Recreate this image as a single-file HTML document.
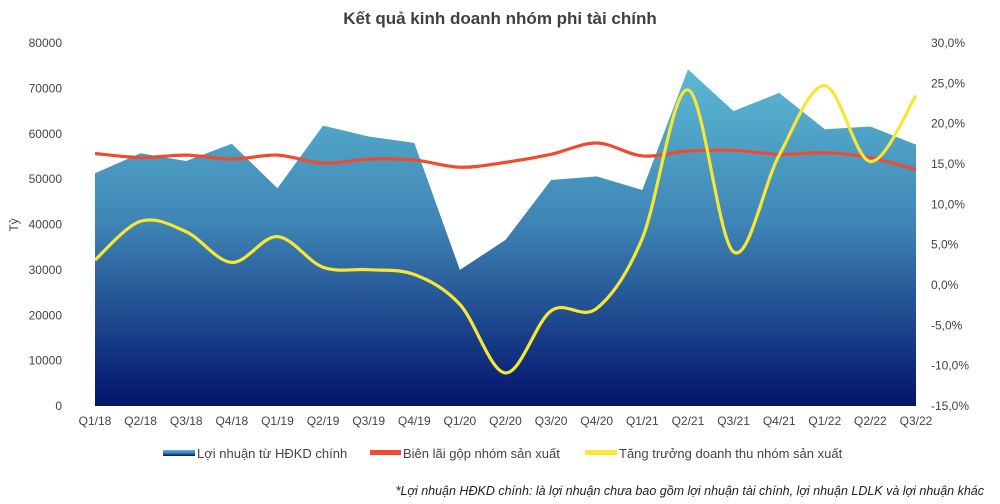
<!DOCTYPE html>
<html><head><meta charset="utf-8"><style>
html,body{margin:0;padding:0;background:#fff;}
svg{display:block;font-family:"Liberation Sans Narrow","Liberation Sans",sans-serif;}
</style></head><body>
<svg id="chart" width="1000" height="504" viewBox="0 0 1000 504">
<defs>
<linearGradient id="areaGrad" x1="0" y1="0" x2="0" y2="1">
<stop offset="0" stop-color="#5bb8d3"/>
<stop offset="0.45" stop-color="#3f86b6"/>
<stop offset="1" stop-color="#02136c"/>
</linearGradient>
</defs>
<text x="500" y="24" text-anchor="middle" font-size="17" font-weight="bold" fill="#404040" font-family="Liberation Sans, sans-serif">Kết quả kinh doanh nhóm phi tài chính</text>
<g id="leftTicks"></g>
<g id="rightTicks"></g>
<g id="xTicks"></g>
<text x="18" y="225" font-size="12" fill="#444" transform="rotate(-90 18 225)" text-anchor="middle">Tỷ</text>
<g id="plot"></g>
<g>
<g><rect x="163" y="450" width="32" height="6" fill="url(#areaGrad)"/><text x="197" y="458" font-size="13" fill="#444">Lợi nhuận từ HĐKD chính</text></g>
<g><rect x="370" y="450" width="31" height="5" fill="#ef4b2e"/><text x="403" y="458" font-size="13" fill="#444">Biên lãi gộp nhóm sản xuất</text></g>
<g><rect x="585" y="450" width="32" height="5" fill="#f6e735"/><text x="619" y="458" font-size="13" fill="#444">Tăng trưởng doanh thu nhóm sản xuất</text></g>
</g>
<text x="984" y="495" text-anchor="end" font-size="12.5" font-style="italic" fill="#222">*Lợi nhuận HĐKD chính: là lợi nhuận chưa bao gồm lợi nhuận tài chính, lợi nhuận LDLK và lợi nhuận khác</text>
</svg>
<script>
const categories=["Q1/18","Q2/18","Q3/18","Q4/18","Q1/19","Q2/19","Q3/19","Q4/19","Q1/20","Q2/20","Q3/20","Q4/20","Q1/21","Q2/21","Q3/21","Q4/21","Q1/22","Q2/22","Q3/22"];
const profitValues=[51300,55700,54000,57800,48000,61800,59400,58000,30000,36600,49800,50600,47600,74200,65000,69000,61000,61600,57600];
const marginValues=[16.3,15.8,16.1,15.6,16.1,15.1,15.6,15.5,14.6,15.2,16.2,17.6,16.0,16.6,16.7,16.2,16.4,15.8,14.3];
const growthValues=[3.1,7.9,6.6,2.8,6.0,2.2,1.9,1.3,-2.4,-10.9,-3.2,-2.9,5.8,24.2,4.1,16.1,24.7,15.3,23.5];
const leftTickLabels=["0","10000","20000","30000","40000","50000","60000","70000","80000"];
const rightTickLabels=["-15,0%","-10,0%","-5,0%","0,0%","5,0%","10,0%","15,0%","20,0%","25,0%","30,0%"];
const NS="http://www.w3.org/2000/svg";
const X0=95,X1=916,Y0=406,Y1=43;
function xs(i){return X0+(X1-X0)*i/(categories.length-1);}
function yl(v){return Y0-(Y0-Y1)*v/80000;}
function yr(v){return Y0-(Y0-Y1)*(v+15)/45;}
function mk(tag,attrs,parent){const e=document.createElementNS(NS,tag);for(const k in attrs)e.setAttribute(k,attrs[k]);parent.appendChild(e);return e;}
const lt=document.getElementById('leftTicks');
leftTickLabels.forEach((t,i)=>{const e=mk('text',{x:62,y:yl(i*10000)+4,'text-anchor':'end','font-size':12,fill:'#444'},lt);e.textContent=t;

});
const rt=document.getElementById('rightTicks');
rightTickLabels.forEach((t,i)=>{const e=mk('text',{x:931,y:yr(-15+i*5)+4,'font-size':12,fill:'#444'},rt);e.textContent=t;

});
const xt=document.getElementById('xTicks');
categories.forEach((c,i)=>{const e=mk('text',{x:xs(i),y:425,'text-anchor':'middle','font-size':12,fill:'#444'},xt);e.textContent=c;

});
const plot=document.getElementById('plot');
let d='M'+xs(0)+','+Y0;
profitValues.forEach((v,i)=>{d+=' L'+xs(i)+','+yl(v);});
d+=' L'+xs(profitValues.length-1)+','+Y0+' Z';
const area=mk('path',{d:d,fill:'url(#areaGrad)'},plot);


function smooth(pts){let s='M'+pts[0][0]+','+pts[0][1];for(let i=0;i<pts.length-1;i++){const p0=pts[Math.max(i-1,0)],p1=pts[i],p2=pts[i+1],p3=pts[Math.min(i+2,pts.length-1)];const t=6;s+=' C'+(p1[0]+(p2[0]-p0[0])/t)+','+(p1[1]+(p2[1]-p0[1])/t)+' '+(p2[0]-(p3[0]-p1[0])/t)+','+(p2[1]-(p3[1]-p1[1])/t)+' '+p2[0]+','+p2[1];}return s;}
const m=mk('path',{d:smooth(marginValues.map((v,i)=>[xs(i),yr(v)])),fill:'none',stroke:'#ef4b2e','stroke-width':3.2},plot);


const g=mk('path',{d:smooth(growthValues.map((v,i)=>[xs(i),yr(v)])),fill:'none',stroke:'#f6e735','stroke-width':3.2},plot);


</script>
</body></html>
